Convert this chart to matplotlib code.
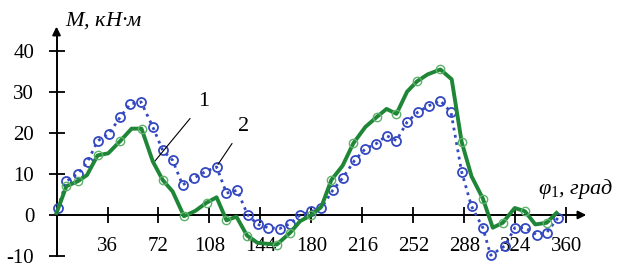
import matplotlib
matplotlib.use("Agg")
import matplotlib.pyplot as plt

plt.rcParams.update({
    "font.family": "Liberation Serif",
    "mathtext.fontset": "custom",
    "mathtext.rm": "Liberation Serif",
    "mathtext.it": "Liberation Serif:italic",
})

C_GREEN = "#1e8636"
C_GREEN_M = "#5cb26a"
C_BLUE = "#3448c0"

# curve 1 (solid green)
phi1 = [0, 7, 15, 21.5, 29, 36.5, 45, 53, 60, 68, 75, 82, 90, 98, 106, 113,
        120, 127, 134.5, 142, 155.5, 165, 172, 180, 187, 194, 202, 209.5, 218,
        226, 233, 240, 247.5, 254.5, 262, 271, 279, 286, 293, 301, 308, 315,
        323.5, 330.7, 338, 346, 353]
m1 = [0.5, 7, 8.2, 9.7, 14.5, 15, 18, 21, 21, 13, 8.5, 5.7, -0.3, 1, 3, 4.3,
      -1.3, -0.4, -5, -6.8, -7.2, -4.3, -1.5, 0, 2, 8.5, 12, 17.4, 21.4,
      23.8, 25.8, 24.6, 30, 32.5, 34.2, 35.4, 33, 17.8, 9.4, 4, -3.1, -1.9,
      1.7, 0.9, -2.3, -1.9, 0.5]
mark1 = [1, 2, 4, 6, 8, 10, 12, 14, 16, 18, 20, 21, 23, 25, 27, 29, 31, 33, 35,
         37, 39, 41, 43, 45]

# curve 2 (dotted blue)
phi2 = [1, 7, 15, 22, 29, 37, 45, 52, 59.7, 68, 75, 82, 89, 97, 105, 113, 120,
        127.5, 135, 142, 149.5, 157.5, 165, 172, 180, 187, 195, 202, 210.5, 218,
        225.5, 233, 240, 247.5, 255, 263, 271, 278.5, 286, 293, 301, 306.5,
        316.6, 323.6, 330.7, 339, 346, 354]
m2 = [1.7, 8.2, 10, 13, 18, 19.8, 23.8, 27, 27.5, 21.4, 15.7, 13.3, 7.3, 9,
      10.5, 11.7, 5.3, 6, 0, -2.3, -3.1, -3.3, -2.1, 0, 0.9, 1.7, 6, 9, 13.3,
      16.1, 17.3, 19.3, 18.1, 22.6, 25, 26.6, 27.8, 25, 10.5, 2.1, -3.1, -9.8,
      -7.5, -3.1, -3.1, -4.8, -4.3, -0.7]

xticks = [36, 72, 108, 144, 180, 216, 252, 288, 324, 360]
yticks = [-10, 0, 10, 20, 30, 40]

fig = plt.figure(figsize=(6.17, 2.68), dpi=100)
ax = fig.add_axes([0, 0, 1, 1])
ax.set_xlim(-39.9, 395.7)
ax.set_ylim(-12.9, 52.3)

ax.plot(phi2, m2, ":", color=C_BLUE, lw=2.0, zorder=3)
ax.plot(phi2, m2, "o", color=C_BLUE, ms=6.5, mfc="none", mew=1.3, zorder=3)
ax.plot(phi1, m1, "-", color=C_GREEN, lw=2.8, zorder=4,
        marker="o", ms=6, mfc="none", mec=C_GREEN_M, mew=1.0, markevery=mark1)

# axes through the origin
for s in ["top", "right"]:
    ax.spines[s].set_visible(False)
ax.spines["left"].set_position(("data", 0))
ax.spines["bottom"].set_position(("data", 0))
ax.spines["left"].set_bounds(-10, 45)
ax.spines["bottom"].set_bounds(0, 372)
for s in ["left", "bottom"]:
    ax.spines[s].set_linewidth(1.4)
    ax.spines[s].set_zorder(2)
ax.annotate("", xy=(0, 46.5), xytext=(0, 43),
            arrowprops=dict(arrowstyle="-|>", color="black", lw=1.4,
                            mutation_scale=12))
ax.annotate("", xy=(376, 0), xytext=(368, 0),
            arrowprops=dict(arrowstyle="-|>", color="black", lw=1.4,
                            mutation_scale=12))

ax.set_xticks(xticks)
ax.set_xticklabels([str(v) for v in xticks])
ax.set_yticks(yticks)
ax.set_yticklabels([str(v) for v in yticks])
ax.tick_params(axis="both", direction="inout", length=12, width=1.3,
               labelsize=15)
ax.tick_params(axis="x", pad=10)
ax.tick_params(axis="y", pad=10)

ax.text(6, 47.3, "$M$, кН·м", fontsize=16, style="italic", va="center",
        ha="left")
ax.text(340, 6.3, r"$\varphi_1$, град", fontsize=16, style="italic",
        va="center", ha="left")

# curve labels with leader lines
ax.annotate("1", xy=(68, 12.5), xytext=(100, 27.5), fontsize=16,
            ha="left", va="center",
            arrowprops=dict(arrowstyle="-", color="black", lw=0.8,
                            shrinkA=6, shrinkB=0))
ax.annotate("2", xy=(114, 12.3), xytext=(128, 21.5), fontsize=16,
            ha="left", va="center",
            arrowprops=dict(arrowstyle="-", color="black", lw=0.8,
                            shrinkA=4, shrinkB=0))

fig.savefig("out.png", dpi=100, facecolor="white")
plt.close(fig)
